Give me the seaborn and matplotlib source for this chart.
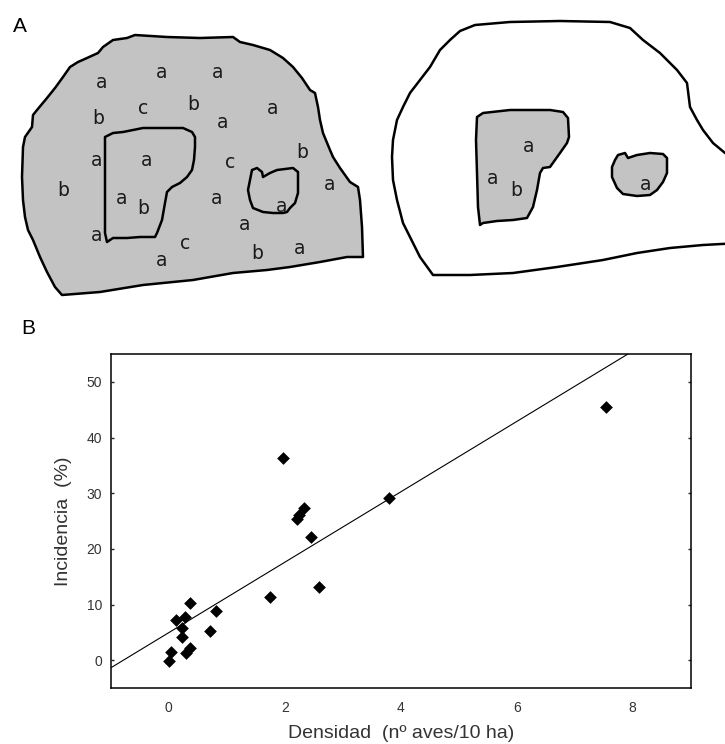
"""Incidence vs. density figure.

A: schematic of two fragments (continuous vs. fragmented) with sites
B: incidence (%) against bird density, with linear fit
"""
import numpy as np
import pandas as pd

import seaborn as sea
import matplotlib.pyplot as plt

sea.set_style("white")
plt.rcParams["font.family"] = ["Liberation Sans", "DejaVu Sans"]
plt.rcParams["savefig.dpi"] = 100


""" ========================================================
panel B data: density (birds / 10 ha) and incidence (%)
"""
densidad = [0.01, 0.04, 0.29, 0.36, 0.23, 0.23, 0.12, 0.28, 0.36, 0.72,
            0.82, 1.74, 1.97, 2.21, 2.24, 2.34, 2.45, 2.59, 3.79, 7.54]
incidencia = [-0.07, 1.55, 1.26, 2.2, 4.1, 5.75, 7.25, 7.7, 10.25, 5.3,
              8.9, 11.4, 36.3, 25.4, 26.0, 27.3, 22.2, 13.1, 29.2, 45.4]

X_TICKS = [0, 2, 4, 6, 8]
Y_TICKS = [0, 10, 20, 30, 40, 50]


""" ========================================================
panel A: outlines in pixel units of the top panel (y down)
"""
big_fragment = [(135, 35), (127, 38), (113, 40), (103, 47), (98, 53),
    (87, 58), (78, 62), (70, 67), (63, 77), (55, 88), (47, 98), (37, 110),
    (33, 115), (32, 127), (25, 137), (23, 147), (22, 177), (23, 200),
    (25, 217), (28, 230), (33, 240), (40, 257), (47, 272), (55, 287),
    (62, 295), (100, 292), (143, 285), (193, 280), (233, 273), (267, 270),
    (290, 267), (320, 262), (347, 257), (363, 257), (362, 227), (360, 200),
    (358, 187), (350, 182), (340, 168), (333, 157), (330, 150), (323, 133),
    (320, 120), (318, 107), (315, 93), (310, 90), (302, 78), (293, 67),
    (283, 58), (270, 50), (253, 45), (240, 42), (233, 37), (200, 38),
    (167, 37)]
inner_big_1 = [(105, 137), (113, 133), (123, 132), (133, 130), (143, 128),
    (167, 128), (183, 128), (192, 132), (195, 137), (195, 147), (194, 160),
    (192, 170), (187, 177), (180, 183), (172, 187), (167, 192), (165, 203),
    (162, 220), (157, 233), (155, 237), (140, 237), (127, 238), (113, 238),
    (107, 242), (105, 233), (105, 200), (105, 167)]
inner_big_2 = [(252, 170), (257, 168), (262, 172), (263, 177), (270, 173),
    (277, 170), (293, 168), (298, 172), (298, 180), (298, 193), (295, 203),
    (290, 208), (287, 212), (283, 213), (273, 213), (263, 212), (253, 208),
    (250, 200), (248, 190), (250, 180)]

small_fragment = [(450, 40), (440, 50), (430, 67), (420, 80), (410, 93),
    (403, 107), (397, 120), (393, 140), (392, 157), (393, 180), (397, 200),
    (403, 223), (413, 243), (420, 257), (433, 275), (470, 275), (513, 273),
    (557, 267), (603, 260), (637, 253), (670, 248), (703, 245), (740, 243),
    (740, 160), (725, 153), (713, 143), (703, 130), (697, 120), (690, 107),
    (687, 83), (677, 70), (660, 53), (643, 40), (630, 28), (610, 22),
    (560, 21), (510, 22), (475, 25), (460, 31)]
inner_small_1 = [(477, 117), (483, 113), (510, 110), (550, 110), (563, 112),
    (568, 118), (569, 137), (567, 143), (560, 153), (550, 167), (543, 168),
    (540, 173), (537, 190), (533, 207), (527, 218), (513, 220), (497, 221),
    (483, 223), (480, 225), (478, 207), (477, 173), (476, 140)]
inner_small_2 = [(618, 155), (625, 153), (628, 158), (637, 155), (650, 153),
    (663, 154), (667, 158), (667, 173), (663, 182), (657, 190), (650, 195),
    (637, 196), (623, 194), (617, 188), (612, 177), (612, 167), (615, 160)]

# sites: first 24 in the continuous fragment, last 4 in the small ones
site_letters = list("aaabcbaabaacbabaaaaacaba") + list("aaba")
site_x = [102, 162, 218, 98, 143, 193, 223, 273, 302, 97, 147, 230, 63, 122,
          143, 217, 330, 282, 245, 97, 185, 162, 257, 300,
          529, 493, 516, 646]
site_y = [82, 72, 72, 118, 108, 105, 122, 108, 152, 160, 160, 163, 190, 199,
          208, 199, 185, 207, 225, 235, 243, 260, 253, 248,
          147, 178, 191, 185]

GREY = "#c3c3c3"


""" ========================================================
figure
"""
fig = plt.figure(figsize=(7.25, 7.44))

# --- panel A, one data unit = one pixel
axA = fig.add_axes([0, 1 - 310 / 744, 1, 310 / 744])
axA.set_xlim(0, 725)
axA.set_ylim(310, 0)
axA.axis("off")

for shape, fill in [(big_fragment, GREY), (inner_big_1, GREY),
                    (inner_big_2, GREY), (small_fragment, "white"),
                    (inner_small_1, GREY), (inner_small_2, GREY)]:
    xs, ys = zip(*shape)
    axA.fill(xs, ys, facecolor=fill, edgecolor="black", lw=1.8,
        joinstyle="round", clip_on=True)

for s, x, y in zip(site_letters, site_x, site_y):
    axA.text(x, y, s, ha="center", va="center", fontsize=13.5,
        color="#1a1a1a", family="DejaVu Sans")

fig.text(20 / 725, 1 - 26 / 744, "A", ha="center", va="center", fontsize=15,
    color="black")

# --- panel B
axB = fig.add_axes([110.7 / 725, 1 - 688 / 744, 580 / 725, 334 / 744])
axB.set_xlim(-1, 9)
axB.set_ylim(-5, 55)

df = pd.DataFrame({"densidad": densidad, "incidencia": incidencia})
sea.regplot(data=df, x="densidad", y="incidencia", ci=None, truncate=False,
    marker="D",
    scatter_kws=dict(s=42, color="black", linewidths=0, alpha=1),
    line_kws=dict(color="black", lw=0.8),
    ax=axB)

axB.set_xlim(-1, 9)
axB.set_ylim(-5, 55)
axB.set_xticks(X_TICKS)
axB.set_yticks(Y_TICKS)
axB.tick_params(axis="y", direction="in", length=2, width=1, left=True,
    right=True, pad=6, labelsize=10, labelcolor="#333333")
axB.tick_params(axis="x", length=0, pad=9, labelsize=10, labelcolor="#333333")
for sp in axB.spines.values():
    sp.set_visible(True)
    sp.set_color("black")
    sp.set_linewidth(1.1)

axB.set_xlabel("Densidad  (nº aves/10 ha)", fontsize=14, color="#333333",
    va="center")
axB.set_ylabel("Incidencia  (%)", fontsize=14, color="#333333", va="center")
axB.xaxis.set_label_coords(0.5, -0.135)
axB.yaxis.set_label_coords(-0.082, 0.5)

fig.text(28 / 725, 1 - 328 / 744, "B", ha="center", va="center", fontsize=15,
    color="black")

plt.savefig("out.png", dpi=100)
plt.close()
